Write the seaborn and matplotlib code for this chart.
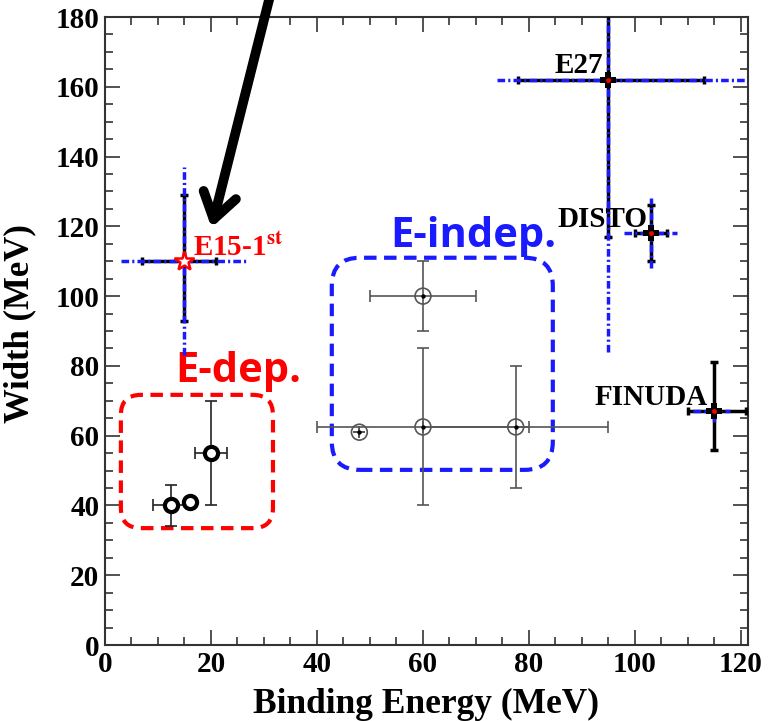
import numpy as np
import pandas as pd
import matplotlib.pyplot as plt
import seaborn as sns
from matplotlib.patches import FancyBboxPatch
from matplotlib.ticker import MultipleLocator

# E-dep analyses (thick black circles)
dep_b = [12.5, 16, 20]
dep_w = [40, 41, 55]
dep_b_err = [3.5, 0, 3]
dep_w_err = [6, 0, 15]

# E-indep analyses (grey circles with dot)
indep_b = [48, 60, 60, 77.5]
indep_w = [61, 100, 62.5, 62.5]
indep_b_err = [0, 10, 20, 17.5]
indep_w_err = [0, 10, 22.5, 17.5]

# experiments: value, stat (lo, hi), syst (lo, hi)
exp_names = ["E15-1st", "E27", "DISTO", "FINUDA"]
exp_b = [15, 95, 103, 115]
exp_w = [110, 162, 118, 67]
exp_b_stat = [[8, 17, 3, 5], [6, 18, 3, 6]]
exp_w_stat = [[17, 45, 8, 11], [19, 87, 8, 14]]
exp_b_syst = [[12, 21, 5, 4], [12, 30, 5, 3]]
exp_w_syst = [[27, 78, 10, 3], [27, 66, 10, 2]]

sns.set_style("ticks")
plt.rcParams["font.family"] = ["Liberation Serif", "DejaVu Serif"]
plt.rcParams["font.weight"] = "bold"
plt.rcParams["mathtext.fontset"] = "stix"
plt.rcParams["text.color"] = "black"
plt.rcParams["axes.labelcolor"] = "black"
plt.rcParams["xtick.labelcolor"] = "black"
plt.rcParams["ytick.labelcolor"] = "black"

fig = plt.figure(figsize=(7.69, 7.21), dpi=100)
ax = fig.add_axes([0.1365, 0.1054, 0.836, 0.871])

blue = "#1a1aff"
dashdot = (0, (2.2, 0.9, 0.6, 0.9))

# grey E-indep points
ax.errorbar(indep_b, indep_w, xerr=indep_b_err, yerr=indep_w_err, fmt="none",
            ecolor="#555555", elinewidth=1.2, capsize=4, capthick=1.2, zorder=2)
ind = pd.DataFrame({"b": indep_b, "w": indep_w})
sns.scatterplot(data=ind, x="b", y="w", ax=ax, marker="o", s=130,
                facecolor="none", edgecolor="#555555", linewidth=1.2, zorder=3)
sns.scatterplot(data=ind, x="b", y="w", ax=ax, marker="o", s=10,
                color="black", linewidth=0, zorder=4)

# black E-dep points
ax.errorbar(dep_b, dep_w, xerr=dep_b_err, yerr=dep_w_err, fmt="none",
            ecolor="#222222", elinewidth=1.2, capsize=4, capthick=1.2, zorder=2)
dep = pd.DataFrame({"b": dep_b, "w": dep_w})
sns.scatterplot(data=dep, x="b", y="w", ax=ax, marker="o", s=90,
                facecolor="white", edgecolor="black", linewidth=3, zorder=3)

# experiments: black stat bars, blue dash-dot syst bars
ax.errorbar(exp_b, exp_w, xerr=exp_b_stat, yerr=exp_w_stat, fmt="none",
            ecolor="black", elinewidth=2.5, capsize=3, capthick=2.5, zorder=4)
for b, w, bl, bh, wl, wh in zip(exp_b, exp_w, exp_b_syst[0], exp_b_syst[1],
                                exp_w_syst[0], exp_w_syst[1]):
    ax.plot([b - bl, b + bh], [w, w], color=blue, lw=2.5, ls=dashdot, zorder=5)
    ax.plot([b, b], [w - wl, w + wh], color=blue, lw=2.5, ls=dashdot, zorder=5)

ex = pd.DataFrame({"b": exp_b[1:], "w": exp_w[1:]})
sns.scatterplot(data=ex, x="b", y="w", ax=ax, marker="P", s=120,
                color="black", linewidth=0, zorder=6)
sns.scatterplot(data=ex, x="b", y="w", ax=ax, marker="o", s=12,
                color="red", linewidth=0, zorder=7)
ax.plot(exp_b[0], exp_w[0], marker="*", ms=15, mfc="white", mec="red",
        mew=1.8, zorder=7)

# rounded dashed boxes
aspect = (121.3 / 0.836 / 769) / (180 / 0.871 / 721)
ax.add_patch(FancyBboxPatch((3.0, 33.5), 28.7, 38.2,
                            boxstyle="round,pad=0,rounding_size=3.8",
                            mutation_aspect=1 / aspect, fill=False,
                            ec="red", lw=3, ls=(0, (3, 1.8)), zorder=1))
ax.add_patch(FancyBboxPatch((42.8, 50.2), 41.7, 60.8,
                            boxstyle="round,pad=0,rounding_size=5.3",
                            mutation_aspect=1 / aspect, fill=False,
                            ec=blue, lw=3, ls=(0, (3, 1.8)), zorder=1))

# text labels
ax.text(13.2, 78.3, "E-dep.", color="red", fontsize=30, fontweight="bold",
        family="Open Sans", va="center", ha="left")
ax.text(53.8, 117, "E-indep.", color=blue, fontsize=30, fontweight="bold",
        family="Open Sans", va="center", ha="left")
ax.text(94.0, 166, "E27", fontsize=21, va="center", ha="right")
ax.text(102.3, 122, "DISTO", fontsize=21, va="center", ha="right", zorder=3)
ax.text(113.8, 71, "FINUDA", fontsize=21, va="center", ha="right")
ax.text(16.6, 114, r"E15-1$^{\mathbf{st}}$", fontsize=21, color="red",
        va="center", ha="left")

# big arrow pointing at E15
ax.annotate("", xy=(20.1, 119.6), xytext=(31.3, 187),
            arrowprops=dict(arrowstyle="->,head_length=0.9,head_width=0.6",
                            color="black", lw=7, mutation_scale=20,
                            shrinkA=0, shrinkB=0),
            annotation_clip=False)

ax.set_xlim(0, 121.3)
ax.set_ylim(0, 180)
ax.xaxis.set_major_locator(MultipleLocator(20))
ax.xaxis.set_minor_locator(MultipleLocator(5))
ax.yaxis.set_major_locator(MultipleLocator(20))
ax.yaxis.set_minor_locator(MultipleLocator(5))
ax.tick_params(which="both", direction="in", top=True, right=True,
               labelsize=21, width=1.2, color="#333333")
ax.tick_params(which="major", length=11, pad=4)
ax.tick_params(which="minor", length=6)
for s in ax.spines.values():
    s.set_linewidth(1.5)
    s.set_color("#333333")

ax.set_xlabel("Binding Energy (MeV)", fontsize=25.5, fontweight="bold")
ax.set_ylabel("Width (MeV)", fontsize=25, fontweight="bold")
ax.xaxis.set_label_coords(0.5, -0.068)
ax.yaxis.set_label_coords(-0.107, 0.512)

fig.savefig("out.png", dpi=100)
